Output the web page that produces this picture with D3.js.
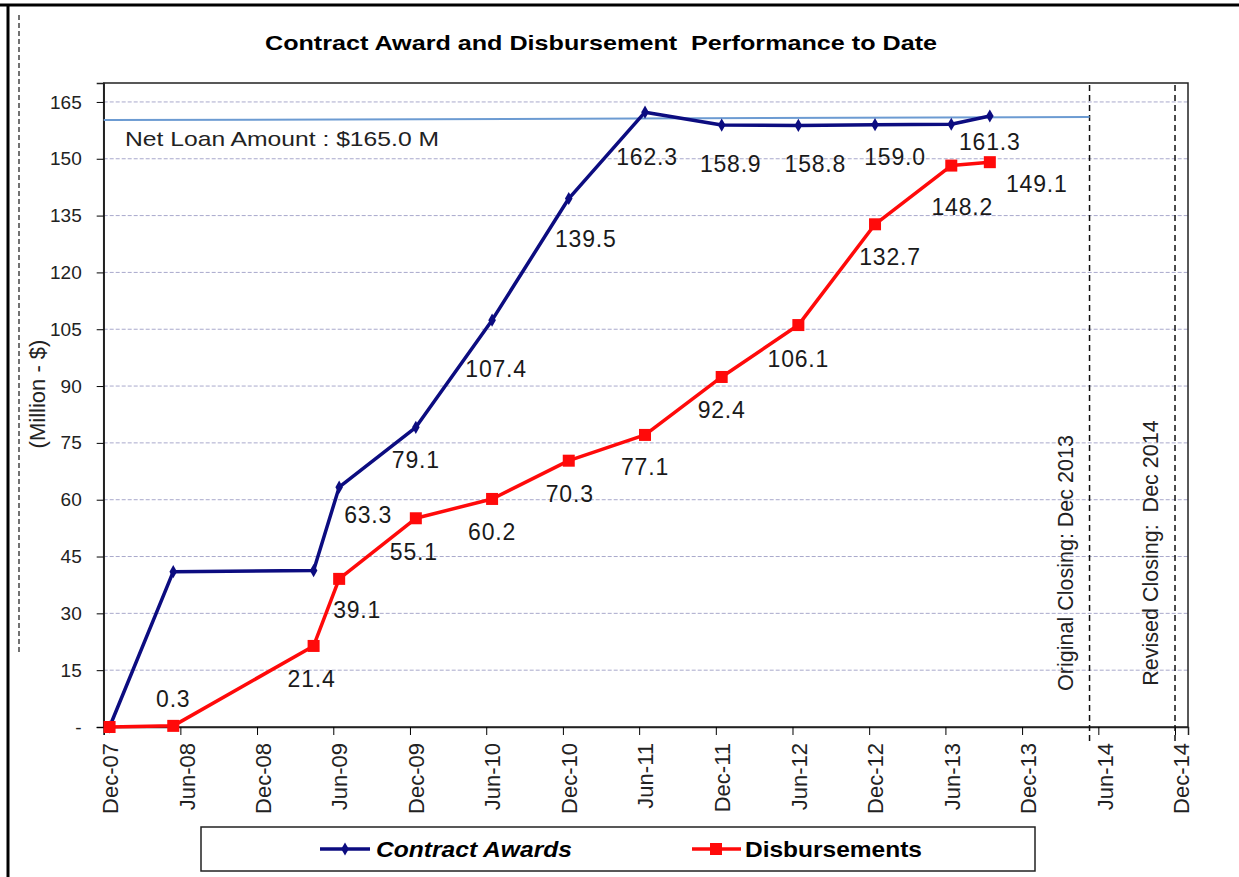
<!DOCTYPE html>
<html>
<head>
<meta charset="utf-8">
<script src="https://cdn.jsdelivr.net/npm/d3@7"></script>
<style>
  body { margin: 0; background: #fff; }
  svg { display: block; font-family: Arial, "Liberation Sans", sans-serif; }
</style>
</head>
<body>
<svg width="1239" height="877"></svg>
<script>
// Data
const dates = ['2007-12-15', '2008-05-15', '2009-04-15', '2009-06-15', '2009-12-15', '2010-06-15',
  '2010-12-15', '2011-06-15', '2011-12-15', '2012-06-15', '2012-12-15', '2013-06-15', '2013-09-15'];
const awards = [0, 41.0, 41.3, 63.3, 79.1, 107.4, 139.5, 162.3, 158.9, 158.8, 159.0, 159.1, 161.3];
const disbursements = [0, 0.3, 21.4, 39.1, 55.1, 60.2, 70.3, 77.1, 92.4, 106.1, 132.7, 148.2, 149.1];
const awardLabelled = [false, false, false, true, true, true, true, true, true, true, true, false, true];
const disbLabelled = [false, true, true, true, true, true, true, true, true, true, true, true, true];

const netLoanDates = ['2007-12-01', '2014-05-11'];
const netLoanValues = [160.2, 161.0];
const netLoanLabel = 'Net Loan Amount : $165.0 M';

const closings = [
  {date: '2014-05-11', label: 'Original Closing: Dec 2013'},
  {date: '2014-12-01', label: 'Revised Closing:  Dec 2014'}
];

const xTicks = ['2007-12-01', '2008-06-01', '2008-12-01', '2009-06-01', '2009-12-01', '2010-06-01',
  '2010-12-01', '2011-06-01', '2011-12-01', '2012-06-01', '2012-12-01', '2013-06-01', '2013-12-01',
  '2014-06-01', '2014-12-01'];
const yTicks = [0, 15, 30, 45, 60, 75, 90, 105, 120, 135, 150, 165];

// label nudges (px) from each point
const awardNudge = [[0, 0], [0, 0], [0, 0], [29, 36], [0, 41], [4, 57], [17, 48], [2, 53], [9, 47], [17, 47], [20, 40], [0, 0], [0, 34]];
const disbNudge = [[0, 0], [0, -19], [-2, 41], [18, 39], [-2, 42], [0, 41], [1, 41], [0, 40], [0, 41], [0, 42], [15, 41], [11, 49], [47, 30]];

const parse = d3.utcParse('%Y-%m-%d');
const awardData = dates.map((d, i) => ({date: parse(d), value: awards[i], show: awardLabelled[i], nudge: awardNudge[i]}));
const disbData = dates.map((d, i) => ({date: parse(d), value: disbursements[i], show: disbLabelled[i], nudge: disbNudge[i]}));

const svg = d3.select('svg');
const plot = {left: 103.7, right: 1188, top: 83, bottom: 727};

const x = d3.scaleUtc()
  .domain([parse('2007-12-01'), parse('2015-01-01')])
  .range([plot.left, plot.right]);

const y = d3.scaleLinear()
  .domain([0, 170])
  .range([plot.bottom, plot.top]);

// outer frame bits
svg.append('line').attr('x1', 0).attr('x2', 1239).attr('y1', 5).attr('y2', 5)
  .attr('stroke', '#000').attr('stroke-width', 3);
svg.append('line').attr('x1', 8).attr('x2', 8).attr('y1', 5).attr('y2', 877)
  .attr('stroke', '#000').attr('stroke-width', 3);
svg.append('line').attr('x1', 19).attr('x2', 19).attr('y1', 15).attr('y2', 655)
  .attr('stroke', '#444').attr('stroke-width', 1.5).attr('stroke-dasharray', '5,3');

// title
svg.append('text')
  .attr('x', 601).attr('y', 50)
  .attr('text-anchor', 'middle')
  .attr('font-size', 21).attr('font-weight', 'bold')
  .style('white-space', 'pre')
  .attr('textLength', 672).attr('lengthAdjust', 'spacingAndGlyphs')
  .text('Contract Award and Disbursement  Performance to Date');

// gridlines
svg.append('g')
  .selectAll('line')
  .data(yTicks.filter(d => d > 0))
  .enter().append('line')
    .attr('x1', plot.left).attr('x2', plot.right)
    .attr('y1', d => y(d)).attr('y2', d => y(d))
    .attr('stroke', '#a9a9cc').attr('stroke-width', 1)
    .attr('stroke-dasharray', '4,2');

// plot frame
svg.append('rect')
  .attr('x', plot.left).attr('y', plot.top)
  .attr('width', plot.right - plot.left).attr('height', plot.bottom - plot.top)
  .attr('fill', 'none').attr('stroke', '#222').attr('stroke-width', 1.5);

// y axis
const yAxis = svg.append('g')
  .attr('transform', `translate(${plot.left},0)`)
  .call(d3.axisLeft(y)
    .tickValues(yTicks)
    .tickSize(7)
    .tickPadding(15)
    .tickFormat(d => d === 0 ? '-' : d));
yAxis.select('.domain').attr('stroke', '#222').attr('stroke-width', 1.5);
yAxis.selectAll('text').attr('font-size', 19).attr('fill', '#222').attr('font-family', null);

svg.append('text')
  .attr('transform', 'translate(45,394) rotate(-90)')
  .attr('text-anchor', 'middle')
  .attr('font-size', 22).attr('fill', '#222')
  .text('(Million - $)');

// x axis
const xAxis = svg.append('g')
  .attr('transform', `translate(0,${plot.bottom})`)
  .call(d3.axisBottom(x)
    .tickValues(xTicks.map(parse))
    .tickSize(8)
    .tickFormat(d3.utcFormat('%b-%y')));
xAxis.select('.domain').attr('stroke', '#222').attr('stroke-width', 1.5);
xAxis.selectAll('text')
  .attr('font-size', 22).attr('fill', '#222').attr('font-family', null)
  .attr('text-anchor', 'end')
  .attr('transform', 'rotate(-90)')
  .attr('x', -16).attr('y', 6).attr('dy', '0.35em');

// closing lines
const closing = svg.append('g').selectAll('g')
  .data(closings)
  .enter().append('g');
closing.append('line')
  .attr('x1', d => x(parse(d.date))).attr('x2', d => x(parse(d.date)))
  .attr('y1', 85).attr('y2', 742)
  .attr('stroke', '#111').attr('stroke-width', 1.5).attr('stroke-dasharray', '6,4');
closing.append('text')
  .attr('transform', (d, i) => `translate(${x(parse(d.date)) - 17},${i === 0 ? 563 : 553}) rotate(-90)`)
  .attr('text-anchor', 'middle')
  .attr('font-size', 21.5).attr('fill', '#222')
  .style('white-space', 'pre')
  .text(d => d.label);

// net loan line
svg.append('line')
  .attr('x1', x(parse(netLoanDates[0]))).attr('x2', x(parse(netLoanDates[1])))
  .attr('y1', y(netLoanValues[0])).attr('y2', y(netLoanValues[1]))
  .attr('stroke', '#6c9bd2').attr('stroke-width', 2);
svg.append('text')
  .attr('x', 125).attr('y', 146)
  .attr('font-size', 21).attr('fill', '#222')
  .attr('textLength', 314).attr('lengthAdjust', 'spacingAndGlyphs')
  .text(netLoanLabel);

const line = d3.line()
  .x(d => x(d.date))
  .y(d => y(d.value));

// contract awards
svg.append('path')
  .datum(awardData)
  .attr('fill', 'none').attr('stroke', '#0c0c80').attr('stroke-width', 3.5)
  .attr('stroke-linejoin', 'round')
  .attr('d', line);
svg.append('g').selectAll('path')
  .data(awardData)
  .enter().append('path')
    .attr('transform', d => `translate(${x(d.date)},${y(d.value)})`)
    .attr('d', d3.symbol(d3.symbolDiamond, 50))
    .attr('fill', '#0c0c80');

// disbursements
svg.append('path')
  .datum(disbData)
  .attr('fill', 'none').attr('stroke', '#ff0a0a').attr('stroke-width', 3.5)
  .attr('stroke-linejoin', 'round')
  .attr('d', line);
svg.append('g').selectAll('rect')
  .data(disbData)
  .enter().append('rect')
    .attr('x', d => x(d.date) - 6).attr('y', d => y(d.value) - 6)
    .attr('width', 12).attr('height', 12)
    .attr('fill', '#ff0a0a');

// value labels
const labels = svg.append('g')
  .attr('font-size', 23).attr('fill', '#1a1a1a').attr('text-anchor', 'middle');
labels.selectAll('.award')
  .data(awardData.filter(d => d.show))
  .enter().append('text')
    .attr('x', d => x(d.date) + d.nudge[0])
    .attr('y', d => y(d.value) + d.nudge[1])
    .attr('letter-spacing', 0.8)
    .text(d => d.value.toFixed(1));
labels.selectAll('.disb')
  .data(disbData.filter(d => d.show))
  .enter().append('text')
    .attr('x', d => x(d.date) + d.nudge[0])
    .attr('y', d => y(d.value) + d.nudge[1])
    .attr('letter-spacing', 0.8)
    .text(d => d.value.toFixed(1));

// legend
const legend = svg.append('g');
legend.append('rect')
  .attr('x', 201).attr('y', 827).attr('width', 834).attr('height', 44)
  .attr('fill', '#fff').attr('stroke', '#222').attr('stroke-width', 1.5);
legend.append('line').attr('x1', 320).attr('x2', 370).attr('y1', 849).attr('y2', 849)
  .attr('stroke', '#0c0c80').attr('stroke-width', 3.5);
legend.append('path').attr('transform', 'translate(345,849)')
  .attr('d', d3.symbol(d3.symbolDiamond, 50)).attr('fill', '#0c0c80');
legend.append('text').attr('x', 376).attr('y', 857)
  .attr('font-size', 22).attr('font-weight', 'bold').attr('font-style', 'italic')
  .attr('textLength', 196).attr('lengthAdjust', 'spacingAndGlyphs')
  .text('Contract Awards');
legend.append('line').attr('x1', 692).attr('x2', 741).attr('y1', 849).attr('y2', 849)
  .attr('stroke', '#ff0a0a').attr('stroke-width', 3.5);
legend.append('rect').attr('x', 710).attr('y', 843).attr('width', 12).attr('height', 12)
  .attr('fill', '#ff0a0a');
legend.append('text').attr('x', 745).attr('y', 857)
  .attr('font-size', 22).attr('font-weight', 'bold')
  .attr('textLength', 177).attr('lengthAdjust', 'spacingAndGlyphs')
  .text('Disbursements');
</script>
</body>
</html>
